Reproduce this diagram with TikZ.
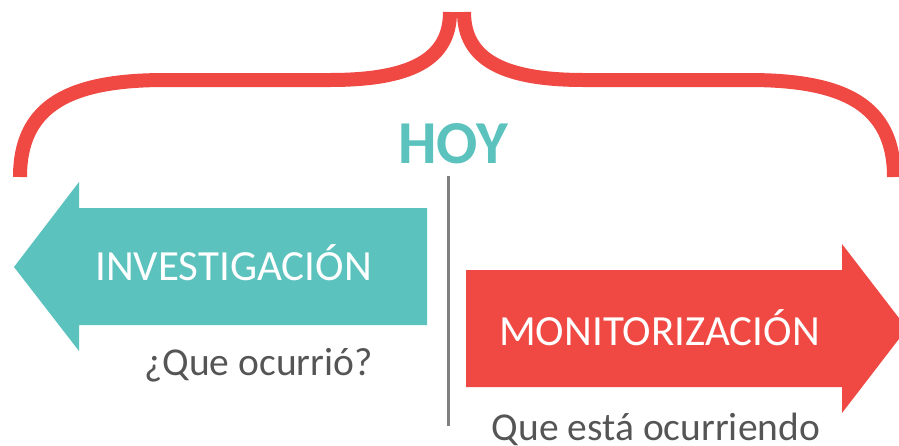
\documentclass[tikz,border=0pt]{standalone}
\usepackage{fontspec}
\setmainfont{Carlito}
\definecolor{teal1}{HTML}{5BC2BD}
\definecolor{red1}{HTML}{F04842}
\definecolor{txtgray}{HTML}{555555}
\definecolor{linegray}{HTML}{808080}
\tikzset{
  brace/.style={draw=red1, line width=14pt, line cap=butt},
  bandtext/.style={text=white, font=\fontsize{43}{43}\selectfont, anchor=base, inner sep=0pt},
  subtext/.style={text=txtgray, font=\fontsize{39.5}{39.5}\selectfont, anchor=base, inner sep=0pt},
}
\begin{document}
\begin{tikzpicture}[x=1pt,y=-1pt]
\useasboundingbox (0,0) rectangle (899,445);
\clip (0,0) rectangle (899,445);
% brace
\draw[brace] (20,177) .. controls (20,105) and (70,80) .. (165,80) -- (330,80) .. controls (410,80) and (450,60) .. (450,12);
\draw[brace] (464,12) .. controls (464,60) and (504,80) .. (584,80) -- (749,80) .. controls (844,80) and (894,105) .. (894,177);
\node[text=teal1, font=\bfseries\fontsize{61}{61}\selectfont, anchor=base, inner sep=0pt] (hoy) at (453,163) {HOY};
% divider
\coordinate (divtop) at (448,176);
\coordinate (divbot) at (448,426);
\draw[linegray, line width=3pt] (divtop) -- (divbot);
% left arrow
\fill[teal1] (14,267) -- (79,182) -- (79,208) -- (427,208) -- (427,325) -- (79,325) -- (79,351) -- cycle;
\node[bandtext] (inv) at (233.5,280) {INVESTIGACIÓN};
\node[subtext] (q1) at (258.5,375) {¿Que ocurrió?};
% right arrow
\fill[red1] (466,270) -- (842,270) -- (842,244) -- (907,328.5) -- (842,413) -- (842,387) -- (466,387) -- cycle;
\node[bandtext] (mon) at (659.5,345) {MONITORIZACIÓN};
\node[subtext] (q2) at (656,440) {Que está ocurriendo};
\end{tikzpicture}
\end{document}
